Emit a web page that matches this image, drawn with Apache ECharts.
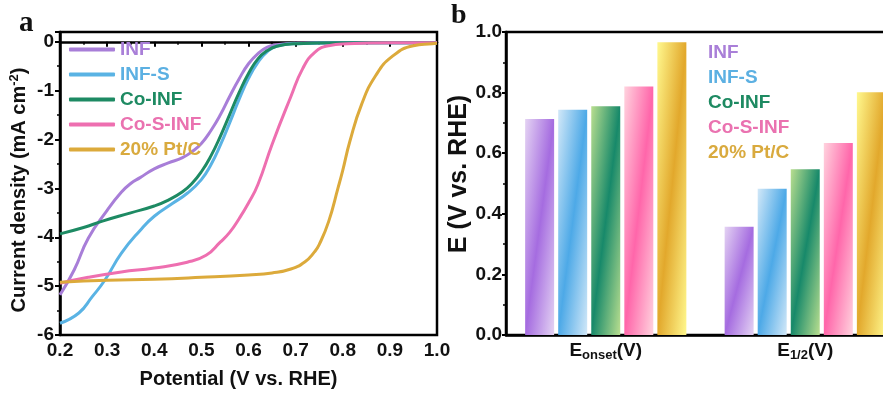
<!DOCTYPE html>
<html><head><meta charset="utf-8">
<script src="https://cdn.jsdelivr.net/npm/echarts@6/dist/echarts.min.js"></script>
<style>html,body{margin:0;padding:0;background:#fff}#c{width:883px;height:396px}</style>
</head><body><div id="c"></div>
<script>
const seriesNames = ['INF', 'INF-S', 'Co-INF', 'Co-S-INF', '20% Pt/C'];
const lineColors = ['#a87ed8', '#5ab3e4', '#1d8a63', '#ee6fb0', '#dcaa3b'];
const textColors = ['#a97fd8', '#5cb0e2', '#1e8a62', '#ea72b0', '#d9aa3e'];
const barLight = ['#e4d3f3', '#d2e8f8', '#b9de8f', '#ffd3de', '#fff88e'];
const barDark  = ['#a56ce0', '#4da9e7', '#17896a', '#ff66aa', '#e2a82c'];

// LSV curves: [potential V vs RHE, current density mA cm-2]
const lsvINF = [[0.20,-5.18],[0.23,-4.67],[0.26,-4.02],[0.30,-3.45],[0.33,-3.08],[0.35,-2.90],[0.37,-2.78],[0.40,-2.60],[0.43,-2.48],[0.46,-2.37],[0.48,-2.25],[0.50,-2.08],[0.52,-1.82],[0.54,-1.50],[0.56,-1.12],[0.58,-0.76],[0.60,-0.45],[0.62,-0.24],[0.64,-0.11],[0.66,-0.06],[0.70,-0.03],[0.80,-0.02],[1.00,-0.02]];
const lsvINFS = [[0.20,-5.76],[0.24,-5.55],[0.268,-5.22],[0.295,-4.88],[0.33,-4.33],[0.37,-3.86],[0.40,-3.57],[0.44,-3.30],[0.47,-3.10],[0.50,-2.82],[0.52,-2.52],[0.54,-2.12],[0.56,-1.66],[0.58,-1.18],[0.60,-0.75],[0.62,-0.42],[0.64,-0.20],[0.66,-0.09],[0.70,-0.04],[0.80,-0.02],[1.00,-0.02]];
const lsvCoINF = [[0.20,-3.93],[0.25,-3.80],[0.29,-3.67],[0.35,-3.50],[0.40,-3.36],[0.43,-3.24],[0.46,-3.07],[0.48,-2.90],[0.50,-2.66],[0.52,-2.34],[0.54,-1.94],[0.56,-1.49],[0.58,-1.04],[0.60,-0.65],[0.62,-0.35],[0.64,-0.18],[0.66,-0.09],[0.70,-0.04],[0.80,-0.02],[1.00,-0.02]];
const lsvCoSINF = [[0.20,-4.94],[0.26,-4.82],[0.33,-4.71],[0.40,-4.63],[0.47,-4.51],[0.51,-4.37],[0.54,-4.10],[0.56,-3.90],[0.58,-3.62],[0.60,-3.30],[0.62,-2.92],[0.65,-2.10],[0.69,-1.12],[0.715,-0.55],[0.74,-0.22],[0.77,-0.08],[0.81,-0.04],[0.90,-0.02],[1.00,-0.02]];
const lsvPtC = [[0.20,-4.92],[0.30,-4.88],[0.40,-4.86],[0.50,-4.82],[0.60,-4.77],[0.65,-4.73],[0.69,-4.65],[0.72,-4.50],[0.74,-4.30],[0.75,-4.15],[0.77,-3.68],[0.79,-2.99],[0.80,-2.63],[0.815,-2.04],[0.84,-1.28],[0.87,-0.69],[0.905,-0.30],[0.95,-0.08],[0.99,-0.04],[1.00,-0.03]];
const lsvCurves = [lsvINF, lsvINFS, lsvCoINF, lsvCoSINF, lsvPtC];

// Bar chart: potentials (V vs RHE)
const barCategories = ['E_onset(V)', 'E_1/2(V)'];
const eOnset = [0.713, 0.743, 0.755, 0.820, 0.966];
const eHalf  = [0.357, 0.483, 0.547, 0.634, 0.801];

const FONT = 'Liberation Sans, Arial, sans-serif';
const SERIF = 'Liberation Serif, Times New Roman, serif';
const chart = echarts.init(document.getElementById('c'), null, {renderer: 'canvas'});

function grad(light, dark, value) {
  const h = value * 303, w = 29;
  const dx = h * h / (h * h + w * w), dy = w * w / (h * h + w * w);
  return new echarts.graphic.LinearGradient(0.5 - dx, 0.5 - dy, 0.5 + dx, 0.5 + dy, [
    {offset: 0, color: light}, {offset: 0.5, color: dark}, {offset: 1, color: light}
  ]);
}

const axisLbl = {color: '#111', fontWeight: 'bold', fontSize: 19, fontFamily: FONT};
const axisLn = {show: true, lineStyle: {color: '#000', width: 2.5}};

const series = [];
lsvCurves.forEach((d, i) => {
  series.push({
    name: seriesNames[i], type: 'line', xAxisIndex: 0, yAxisIndex: 0,
    data: d, symbol: 'none', smooth: 0.5,
    lineStyle: {color: lineColors[i], width: 3}, itemStyle: {color: lineColors[i]},
    z: 2 + i
  });
});
seriesNames.forEach((n, i) => {
  series.push({
    name: n, type: 'bar', xAxisIndex: 1, yAxisIndex: 1,
    barWidth: 29, barGap: '14%',
    data: [eOnset[i], eHalf[i]].map(v => ({value: v, itemStyle: {color: grad(barLight[i], barDark[i], v)}})),
    itemStyle: {color: barDark[i]}
  });
});

chart.setOption({
  animation: false,
  backgroundColor: '#fff',
  grid: [
    {left: 60, top: 32, width: 377, height: 303, show: true, borderColor: '#000', borderWidth: 2.5, backgroundColor: 'transparent', outerBoundsMode: 'none', containLabel: false},
    {left: 506, top: 32, width: 399, height: 303, show: true, borderColor: '#000', borderWidth: 2.5, backgroundColor: 'transparent', outerBoundsMode: 'none', containLabel: false}
  ],
  legend: [
    {
      data: seriesNames.map((n, i) => ({name: n, textStyle: {color: textColors[i]}})),
      orient: 'vertical', left: 64, top: 35, itemWidth: 46, itemHeight: 4, itemGap: 6, icon: 'roundRect',
      textStyle: {fontSize: 19, fontWeight: 'bold', fontFamily: FONT, lineHeight: 19},
      selectedMode: false
    },
    {
      data: seriesNames.map((n, i) => ({name: n, textStyle: {color: textColors[i]}, itemStyle: {opacity: 0}})),
      orient: 'vertical', left: 697, top: 38, itemWidth: 0, itemHeight: 0, itemGap: 6,
      textStyle: {fontSize: 19, fontWeight: 'bold', fontFamily: FONT, lineHeight: 19},
      selectedMode: false
    }
  ],
  xAxis: [
    {
      type: 'value', gridIndex: 0, min: 0.2, max: 1.0, interval: 0.1,
      axisLine: axisLn, splitLine: {show: false},
      axisTick: {show: true, length: 5, lineStyle: {width: 2, color: '#000'}},
      minorTick: {show: true, splitNumber: 2, length: 3, lineStyle: {width: 1.5, color: '#000'}},
      axisLabel: Object.assign({margin: 6, formatter: v => v.toFixed(1)}, axisLbl),
      name: 'Potential (V vs. RHE)', nameLocation: 'middle', nameGap: 34,
      nameTextStyle: {fontSize: 20, fontWeight: 'bold', fontFamily: FONT, color: '#111', padding: [0, 20, 0, 0]}
    },
    {
      type: 'category', gridIndex: 1, data: barCategories,
      axisLine: axisLn, axisTick: {show: false}, splitLine: {show: false},
      axisLabel: {
        margin: 5, fontFamily: FONT,
        formatter: v => {
          const m = v.match(/^E_(.+)\(V\)$/);
          return '{m|E}{s|' + m[1] + '}{m|(V)}';
        },
        rich: {
          m: {fontSize: 19, fontWeight: 'bold', fontFamily: FONT, color: '#111', lineHeight: 22},
          s: {fontSize: 13, fontWeight: 'bold', fontFamily: FONT, color: '#111', padding: [9, 0, 0, 0], lineHeight: 22}
        }
      }
    }
  ],
  yAxis: [
    {
      type: 'value', gridIndex: 0, min: -6, max: 0.2, interval: 1,
      axisLine: axisLn, splitLine: {show: false},
      axisTick: {show: true, length: 5, lineStyle: {width: 2, color: '#000'}},
      minorTick: {show: true, splitNumber: 2, length: 3, lineStyle: {width: 1.5, color: '#000'}},
      axisLabel: Object.assign({margin: 6, showMaxLabel: false}, axisLbl),
      name: 'Current density (mA cm{sup|-2})', nameLocation: 'middle', nameGap: 30,
      nameTextStyle: {
        fontSize: 20, fontWeight: 'bold', fontFamily: FONT, color: '#111', padding: [0, 13, 0, 0],
        rich: {sup: {fontSize: 13, fontWeight: 'bold', fontFamily: FONT, color: '#111', padding: [0, 0, 9, 0]}}
      }
    },
    {
      type: 'value', gridIndex: 1, min: 0, max: 1.0, interval: 0.2,
      axisLine: axisLn, splitLine: {show: false},
      axisTick: {show: true, length: 4, lineStyle: {width: 2, color: '#000'}},
      minorTick: {show: true, splitNumber: 2, length: 3, lineStyle: {width: 1.5, color: '#000'}},
      axisLabel: Object.assign({margin: 4, formatter: v => v.toFixed(1)}, axisLbl),
      name: 'E (V vs. RHE)', nameLocation: 'middle', nameGap: 28,
      nameTextStyle: {fontSize: 25, fontWeight: 'bold', fontFamily: FONT, color: '#111', padding: [0, 0, 0, 19]}
    }
  ],
  graphic: [
    {type: 'text', left: 19, top: 9, style: {text: 'a', fontSize: 29, fontWeight: 'bold', fontFamily: SERIF, fill: '#111'}},
    {type: 'text', left: 451, top: 2, style: {text: 'b', fontSize: 28, fontWeight: 'bold', fontFamily: SERIF, fill: '#111'}}
  ],
  series: series
});
</script></body></html>
